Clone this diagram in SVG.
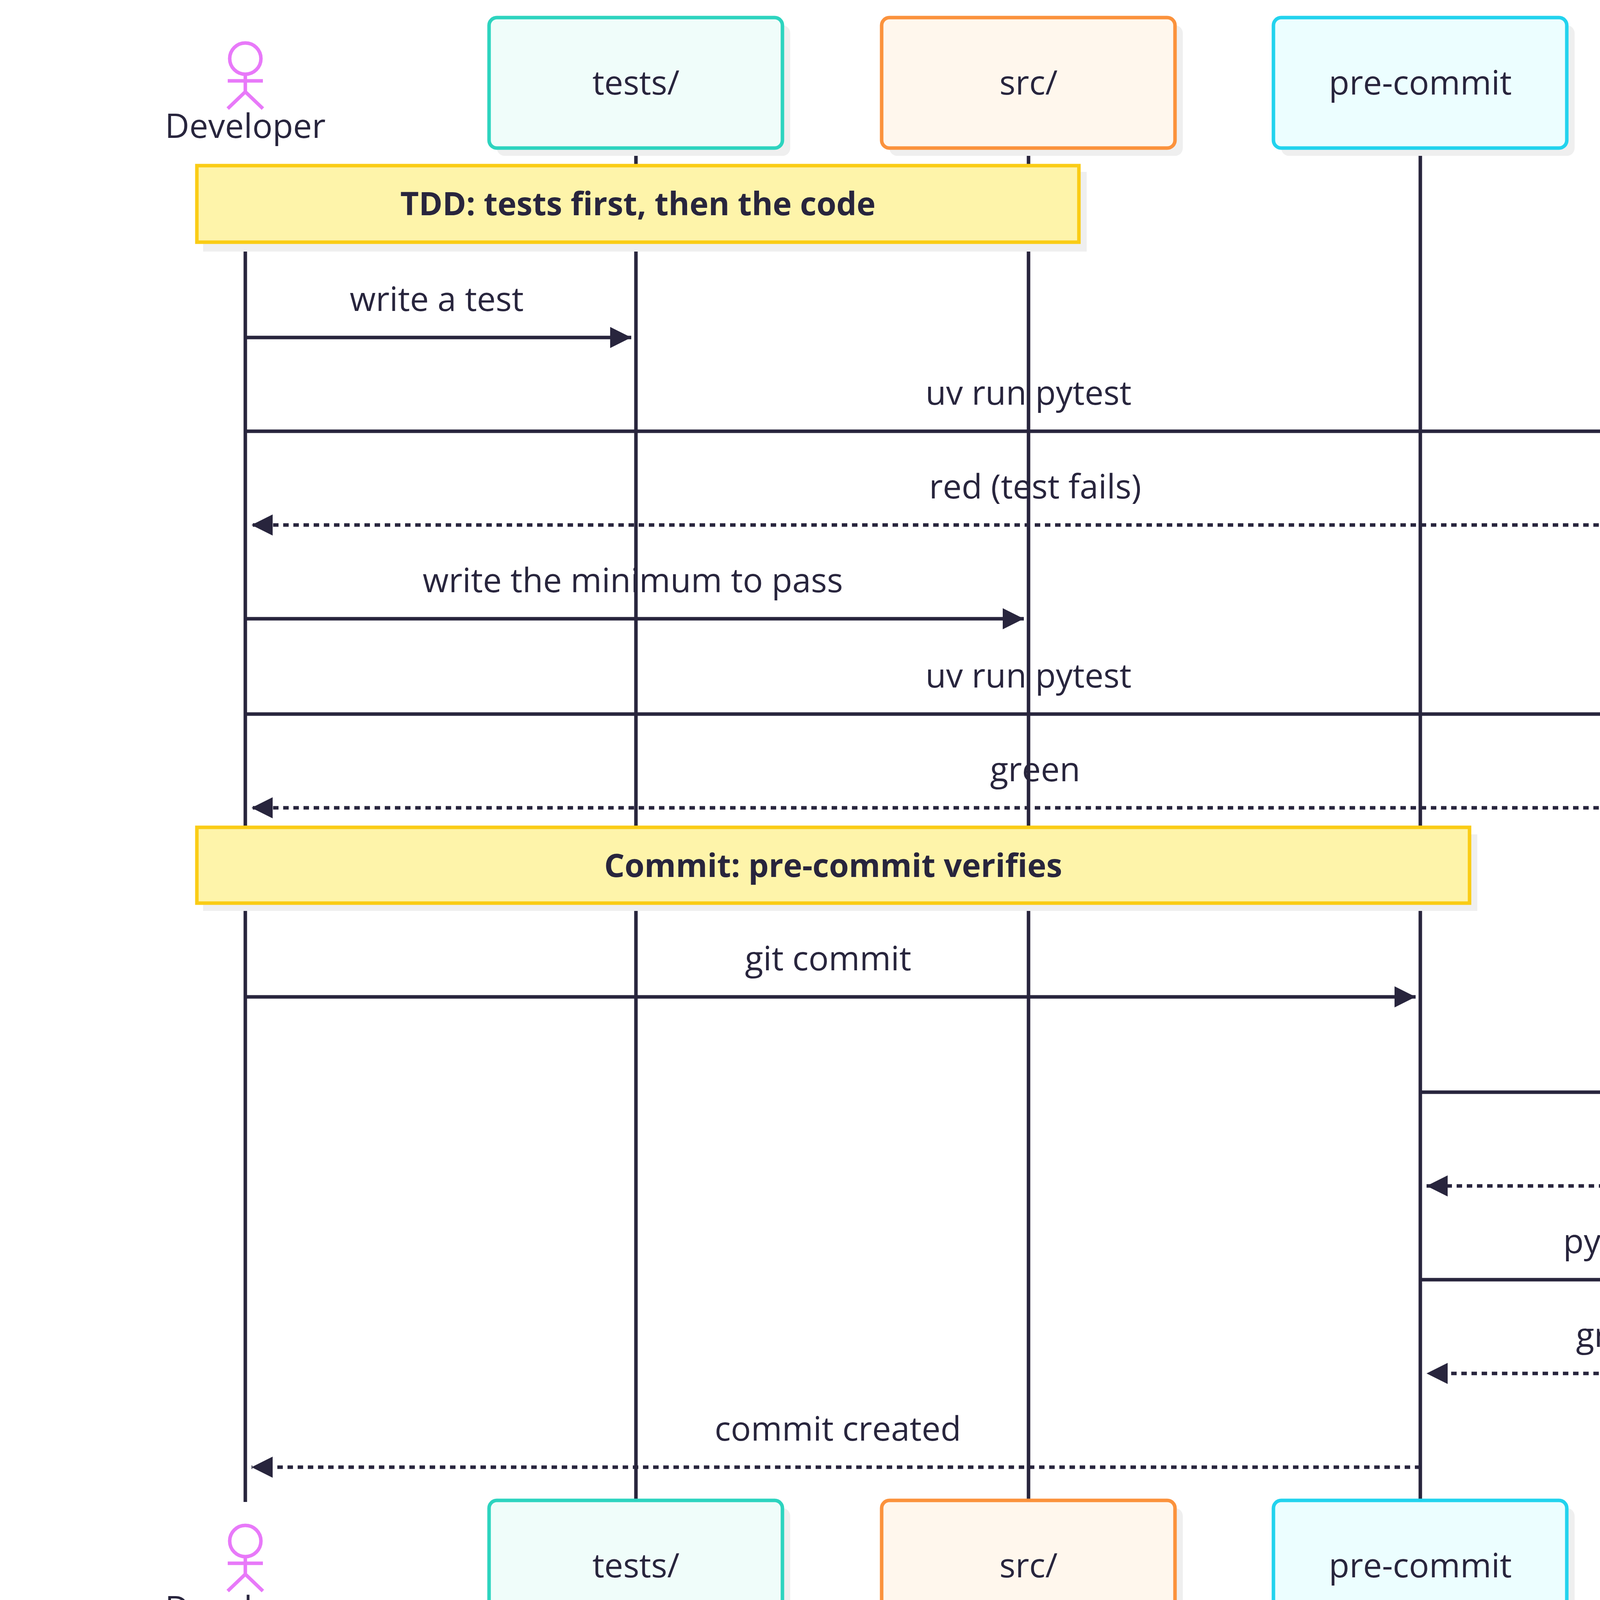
<svg xmlns="http://www.w3.org/2000/svg" width="6250" height="4375" viewBox="0 0 6250 4375">
<style>
text{font-family:"Open Sans","Liberation Sans",sans-serif;fill:#28253d;font-size:86px;text-anchor:middle}
.box{stroke-width:9}
.shadow{fill:#efefef}
.life{stroke:#28253d;stroke-width:9;fill:none}
.msg{stroke:#28253d;stroke-width:9;fill:none}
.dash{stroke-dasharray:14,12}
.note{fill:#fef4aa;stroke:#facc15;stroke-width:9}
.nt{font-weight:bold;font-size:82px}
.actor{stroke:#e879f9;stroke-width:9;fill:none}
</style>
<defs>
<marker id="ah" viewBox="0 0 10 10" refX="10" refY="5" markerWidth="6" markerHeight="6" markerUnits="strokeWidth" orient="auto"><path d="M0,0L10,5L0,10z" fill="#28253d"/></marker>
</defs>
<g id="lifelines">
<line class="life" x1="628" y1="420" x2="628" y2="3845"/>
<line class="life" x1="1628" y1="379" x2="1628" y2="3845"/>
<line class="life" x1="2633" y1="379" x2="2633" y2="3845"/>
<line class="life" x1="3636" y1="379" x2="3636" y2="3845"/>
<line class="life" x1="4639" y1="379" x2="4639" y2="3845"/>
<line class="life" x1="5641" y1="379" x2="5641" y2="3845"/>
</g>
<g id="developer-top">
<circle class="actor" cx="628" cy="150" r="40"/>
<path class="actor" d="M628,190V235M583,207H673M583,278L628,235L673,278"/>
<text x="628" y="353">Developer</text>
</g>
<g id="developer-bottom">
<circle class="actor" cx="628" cy="3945" r="40"/>
<path class="actor" d="M628,3985V4030M583,4002H673M583,4073L628,4030L673,4073"/>
<text x="628" y="4148">Developer</text>
</g>
<g id="tests-top"><rect class="shadow" x="1272" y="65" width="751" height="334" rx="20"/><rect class="box" x="1252" y="45" width="751" height="334" rx="20" fill="#f0fdfa" stroke="#2dd4bf"/><text x="1628" y="242">tests/</text></g>
<g id="src-top"><rect class="shadow" x="2277" y="65" width="751" height="334" rx="20"/><rect class="box" x="2257" y="45" width="751" height="334" rx="20" fill="#fff7ed" stroke="#fb923c"/><text x="2633" y="242">src/</text></g>
<g id="precommit-top"><rect class="shadow" x="3280" y="65" width="751" height="334" rx="20"/><rect class="box" x="3260" y="45" width="751" height="334" rx="20" fill="#ecfeff" stroke="#22d3ee"/><text x="3636" y="242">pre-commit</text></g>
<g id="pytest-top"><rect class="shadow" x="4283" y="65" width="751" height="334" rx="20"/><rect class="box" x="4263" y="45" width="751" height="334" rx="20" fill="#f0fdf4" stroke="#4ade80"/><text x="4639" y="242">pytest</text></g>
<g id="ruff-top"><rect class="shadow" x="5285" y="65" width="751" height="334" rx="20"/><rect class="box" x="5265" y="45" width="751" height="334" rx="20" fill="#f5f3ff" stroke="#a78bfa"/><text x="5641" y="242">ruff</text></g>
<g id="tests-bottom"><rect class="shadow" x="1272" y="3861" width="751" height="334" rx="20"/><rect class="box" x="1252" y="3841" width="751" height="334" rx="20" fill="#f0fdfa" stroke="#2dd4bf"/><text x="1628" y="4038">tests/</text></g>
<g id="src-bottom"><rect class="shadow" x="2277" y="3861" width="751" height="334" rx="20"/><rect class="box" x="2257" y="3841" width="751" height="334" rx="20" fill="#fff7ed" stroke="#fb923c"/><text x="2633" y="4038">src/</text></g>
<g id="precommit-bottom"><rect class="shadow" x="3280" y="3861" width="751" height="334" rx="20"/><rect class="box" x="3260" y="3841" width="751" height="334" rx="20" fill="#ecfeff" stroke="#22d3ee"/><text x="3636" y="4038">pre-commit</text></g>
<g id="pytest-bottom"><rect class="shadow" x="4283" y="3861" width="751" height="334" rx="20"/><rect class="box" x="4263" y="3841" width="751" height="334" rx="20" fill="#f0fdf4" stroke="#4ade80"/><text x="4639" y="4038">pytest</text></g>
<g id="ruff-bottom"><rect class="shadow" x="5285" y="3861" width="751" height="334" rx="20"/><rect class="box" x="5265" y="3841" width="751" height="334" rx="20" fill="#f5f3ff" stroke="#a78bfa"/><text x="5641" y="4038">ruff</text></g>
<g id="note-tdd"><rect class="shadow" x="520" y="440" width="2262" height="204"/><rect class="note" x="504" y="424" width="2258" height="196"/><text class="nt" x="1633" y="551">TDD: tests first, then the code</text></g>
<g id="note-commit"><rect class="shadow" x="520" y="2136" width="3262" height="196"/><rect class="note" x="504" y="2118" width="3258" height="194"/><text class="nt" x="2133" y="2245">Commit: pre-commit verifies</text></g>
<g id="connectors">
<line class="msg" x1="628" y1="864" x2="1616" y2="864" marker-end="url(#ah)"/>
<line class="msg" x1="628" y1="1104" x2="4627" y2="1104" marker-end="url(#ah)"/>
<line class="msg dash" x1="4639" y1="1344" x2="644" y2="1344" marker-end="url(#ah)"/>
<line class="msg" x1="628" y1="1584" x2="2621" y2="1584" marker-end="url(#ah)"/>
<line class="msg" x1="628" y1="1828" x2="4627" y2="1828" marker-end="url(#ah)"/>
<line class="msg dash" x1="4639" y1="2068" x2="644" y2="2068" marker-end="url(#ah)"/>
<line class="msg" x1="628" y1="2552" x2="3624" y2="2552" marker-end="url(#ah)"/>
<line class="msg" x1="3636" y1="2796" x2="5629" y2="2796" marker-end="url(#ah)"/>
<line class="msg dash" x1="5641" y1="3036" x2="3652" y2="3036" marker-end="url(#ah)"/>
<line class="msg" x1="3636" y1="3276" x2="4627" y2="3276" marker-end="url(#ah)"/>
<line class="msg dash" x1="4639" y1="3516" x2="3652" y2="3516" marker-end="url(#ah)"/>
<line class="msg dash" x1="3636" y1="3756" x2="644" y2="3756" marker-end="url(#ah)"/>
<text x="1118" y="796">write a test</text>
<text x="2633" y="1036">uv run pytest</text>
<text x="2650" y="1276">red (test fails)</text>
<text x="1620" y="1516">write the minimum to pass</text>
<text x="2633" y="1760">uv run pytest</text>
<text x="2650" y="2000">green</text>
<text x="2120" y="2484">git commit</text>
<text x="4625" y="2728">ruff check + format</text>
<text x="4655" y="2968">ok</text>
<text x="4125" y="3208">pytest</text>
<text x="4150" y="3448">green</text>
<text x="2145" y="3688">commit created</text>
</g>
</svg>
